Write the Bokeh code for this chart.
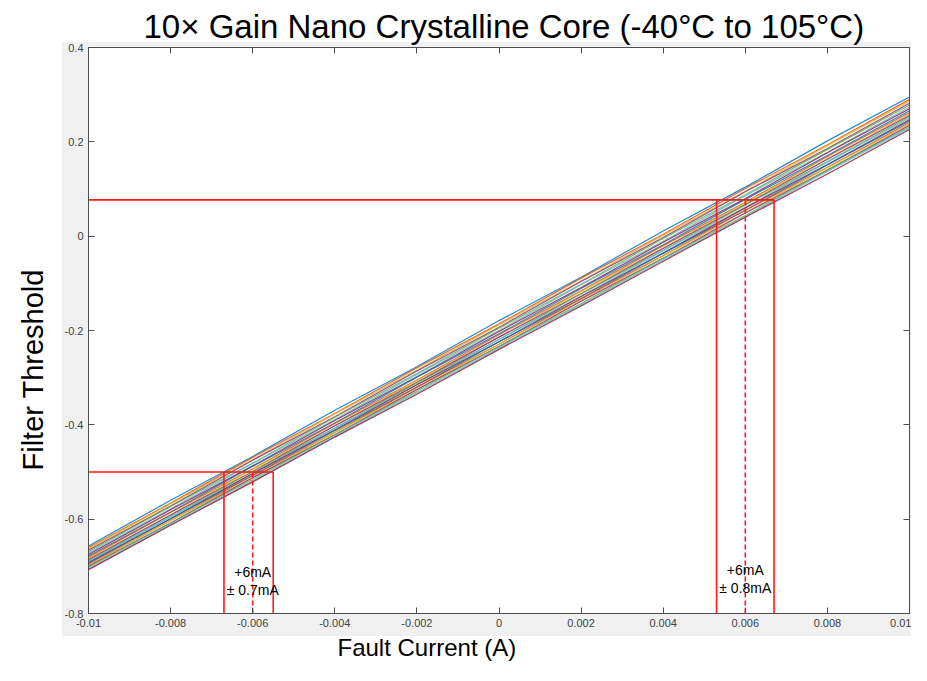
from bokeh.plotting import figure
from bokeh.models import LinearAxis, FixedTicker, CustomJSTickFormatter, Title
from bokeh.embed import file_html
from bokeh.resources import INLINE
from bokeh.core.properties import value

# ---------------- data ----------------
fault_current = [-0.010, -0.008, -0.006, -0.004, -0.002, 0.000, 0.002, 0.004, 0.006, 0.008, 0.010]

threshold_01 = [-0.657, -0.560, -0.467, -0.369, -0.277, -0.179, -0.087, 0.011, 0.104, 0.202, 0.295]
threshold_02 = [-0.660, -0.566, -0.469, -0.376, -0.279, -0.186, -0.089, 0.004, 0.101, 0.194, 0.290]
threshold_03 = [-0.663, -0.567, -0.474, -0.377, -0.284, -0.188, -0.095, 0.002, 0.095, 0.192, 0.286]
threshold_04 = [-0.666, -0.572, -0.475, -0.383, -0.286, -0.193, -0.096, -0.003, 0.094, 0.186, 0.282]
threshold_05 = [-0.669, -0.573, -0.481, -0.384, -0.291, -0.195, -0.102, -0.005, 0.088, 0.184, 0.278]
threshold_06 = [-0.672, -0.578, -0.482, -0.389, -0.293, -0.200, -0.103, -0.011, 0.086, 0.178, 0.274]
threshold_07 = [-0.675, -0.580, -0.487, -0.391, -0.298, -0.202, -0.109, -0.013, 0.080, 0.177, 0.270]
threshold_08 = [-0.678, -0.585, -0.488, -0.396, -0.299, -0.207, -0.111, -0.018, 0.078, 0.171, 0.266]
threshold_09 = [-0.681, -0.586, -0.493, -0.397, -0.305, -0.209, -0.116, -0.020, 0.072, 0.169, 0.262]
threshold_10 = [-0.684, -0.591, -0.494, -0.402, -0.306, -0.214, -0.117, -0.025, 0.071, 0.164, 0.259]
threshold_11 = [-0.686, -0.591, -0.499, -0.402, -0.310, -0.214, -0.122, -0.026, 0.067, 0.163, 0.256]
threshold_12 = [-0.688, -0.595, -0.499, -0.407, -0.311, -0.219, -0.122, -0.030, 0.066, 0.158, 0.253]
threshold_13 = [-0.690, -0.595, -0.503, -0.407, -0.315, -0.219, -0.127, -0.031, 0.061, 0.157, 0.250]
threshold_14 = [-0.692, -0.599, -0.503, -0.411, -0.315, -0.224, -0.128, -0.036, 0.060, 0.152, 0.247]
threshold_15 = [-0.694, -0.599, -0.507, -0.412, -0.320, -0.224, -0.132, -0.036, 0.055, 0.151, 0.244]
threshold_16 = [-0.696, -0.603, -0.508, -0.416, -0.320, -0.229, -0.133, -0.041, 0.055, 0.146, 0.241]
threshold_17 = [-0.698, -0.603, -0.512, -0.416, -0.325, -0.229, -0.137, -0.042, 0.050, 0.145, 0.238]
threshold_18 = [-0.700, -0.608, -0.512, -0.421, -0.325, -0.234, -0.138, -0.047, 0.049, 0.140, 0.235]
threshold_19 = [-0.702, -0.608, -0.516, -0.421, -0.329, -0.234, -0.143, -0.047, 0.044, 0.140, 0.232]
threshold_20 = [-0.705, -0.611, -0.519, -0.424, -0.332, -0.237, -0.146, -0.050, 0.041, 0.137, 0.229]
threshold_21 = [-0.707, -0.613, -0.521, -0.426, -0.335, -0.240, -0.148, -0.053, 0.040, 0.132, 0.226]

line_colors = ["#0072BD", "#D95319", "#EDB120", "#7E2F8E", "#77AC30", "#4DBEEE", "#A2142F"]

upper_level = 0.077
upper_bounds = [0.0053, 0.0067]
upper_center = 0.006
upper_text = ["+6mA", "± 0.8mA"]
upper_text_y = [-0.708, -0.746]

lower_level = -0.5
lower_bounds = [-0.0067, -0.0055]
lower_center = -0.006
lower_text = ["+6mA", "± 0.7mA"]
lower_text_y = [-0.712, -0.750]

x_ticks = [-0.01, -0.008, -0.006, -0.004, -0.002, 0.0, 0.002, 0.004, 0.006, 0.008, 0.01]
x_tick_labels = ["-0.01", "-0.008", "-0.006", "-0.004", "-0.002", "0", "0.002", "0.004", "0.006", "0.008", "0.01"]
y_ticks = [-0.8, -0.6, -0.4, -0.2, 0.0, 0.2, 0.4]
y_tick_labels = ["-0.8", "-0.6", "-0.4", "-0.2", "0", "0.2", "0.4"]

x_min, x_max = -0.01, 0.01
y_min, y_max = -0.8, 0.4

all_series = [threshold_01, threshold_02, threshold_03, threshold_04, threshold_05, threshold_06,
              threshold_07, threshold_08, threshold_09, threshold_10, threshold_11, threshold_12,
              threshold_13, threshold_14, threshold_15, threshold_16, threshold_17, threshold_18,
              threshold_19, threshold_20, threshold_21]

FONT = "Liberation Sans"

# ---------------- figure ----------------
p = figure(width=911, height=665, x_range=(x_min, x_max), y_range=(y_min, y_max),
           output_backend="svg", toolbar_location=None,
           min_border_left=88, min_border_right=2, min_border_top=47, min_border_bottom=52)

p.background_fill_color = "white"
p.border_fill_color = None
p.outline_line_color = "#4d4d4d"
p.xgrid.visible = False
p.ygrid.visible = False

# light-gray MATLAB-like figure background around the axes (CSS, behind the transparent border)
p.styles = {"background": "linear-gradient(#f0f0f0, #f0f0f0) 62px 42px / 849px 594px no-repeat, #ffffff"}

x_overrides = {t: l for t, l in zip(x_ticks, x_tick_labels)}
y_overrides = {t: l for t, l in zip(y_ticks, y_tick_labels)}

for ax in p.xaxis:
    ax.ticker = FixedTicker(ticks=x_ticks)
    ax.major_label_overrides = x_overrides
for ax in p.yaxis:
    ax.ticker = FixedTicker(ticks=y_ticks)
    ax.major_label_overrides = y_overrides

for ax in list(p.xaxis) + list(p.yaxis):
    ax.major_label_text_font = FONT
    ax.major_label_text_font_size = "11px"
    ax.major_label_text_color = "#404040"
    ax.major_tick_in = 6
    ax.major_tick_out = 0
    ax.minor_tick_line_color = None
    ax.axis_line_color = "#4d4d4d"
    ax.major_tick_line_color = "#4d4d4d"
    ax.major_label_standoff = 5

blank = CustomJSTickFormatter(code="return '';")
top_axis = LinearAxis(ticker=FixedTicker(ticks=x_ticks), formatter=blank,
                      major_tick_in=6, major_tick_out=0, minor_tick_line_color=None,
                      axis_line_color="#4d4d4d", major_tick_line_color="#4d4d4d",
                      major_label_text_font_size="1px")
right_axis = LinearAxis(ticker=FixedTicker(ticks=y_ticks), formatter=blank,
                        major_tick_in=6, major_tick_out=0, minor_tick_line_color=None,
                        axis_line_color="#4d4d4d", major_tick_line_color="#4d4d4d",
                        major_label_text_font_size="1px")
p.add_layout(top_axis, "above")
p.add_layout(right_axis, "right")

# titles (main title and axis titles)
main_title = Title(text="10× Gain Nano Crystalline Core (-40°C to 105°C)", align="left", offset=55,
                   text_font=FONT, text_font_size="33px", text_font_style="normal",
                   text_color="black", standoff=6)
p.add_layout(main_title, "above")
x_title = Title(text="Fault Current (A)", align="left", offset=249,
                text_font=FONT, text_font_size="24px", text_font_style="normal",
                text_color="black", standoff=5)
p.add_layout(x_title, "below")
y_title = Title(text="Filter Threshold", align="left", offset=143, vertical_align="top",
                text_font=FONT, text_font_size="29px", text_font_style="normal",
                text_color="black", standoff=22)
p.add_layout(y_title, "left")

# ---------------- data lines ----------------
for i, s in enumerate(all_series):
    p.line(fault_current, s, line_color=line_colors[i % len(line_colors)], line_width=1.2, line_alpha=0.85)

# ---------------- red markers ----------------
red = "#ff1a1a"
# upper
p.line([x_min, upper_bounds[1]], [upper_level, upper_level], line_color=red, line_width=1.6)
for xb in upper_bounds:
    p.line([xb, xb], [y_min, upper_level], line_color=red, line_width=1.6)
p.line([upper_center, upper_center], [y_min, upper_level], line_color=red, line_width=1.6, line_dash="5 3")
# lower
p.line([x_min, lower_bounds[1]], [lower_level, lower_level], line_color=red, line_width=1.6)
for xb in lower_bounds:
    p.line([xb, xb], [y_min, lower_level], line_color=red, line_width=1.6)
p.line([lower_center, lower_center], [y_min, lower_level], line_color=red, line_width=1.6, line_dash="5 3")

p.text(x=[upper_center] * 2, y=upper_text_y, text=upper_text, text_font=value(FONT),
       text_font_size="14px", text_align="center", text_baseline="middle", text_color="black")
p.text(x=[lower_center] * 2, y=lower_text_y, text=lower_text, text_font=value(FONT),
       text_font_size="14px", text_align="center", text_baseline="middle", text_color="black")

open("out.html", "w").write(file_html(p, INLINE))
